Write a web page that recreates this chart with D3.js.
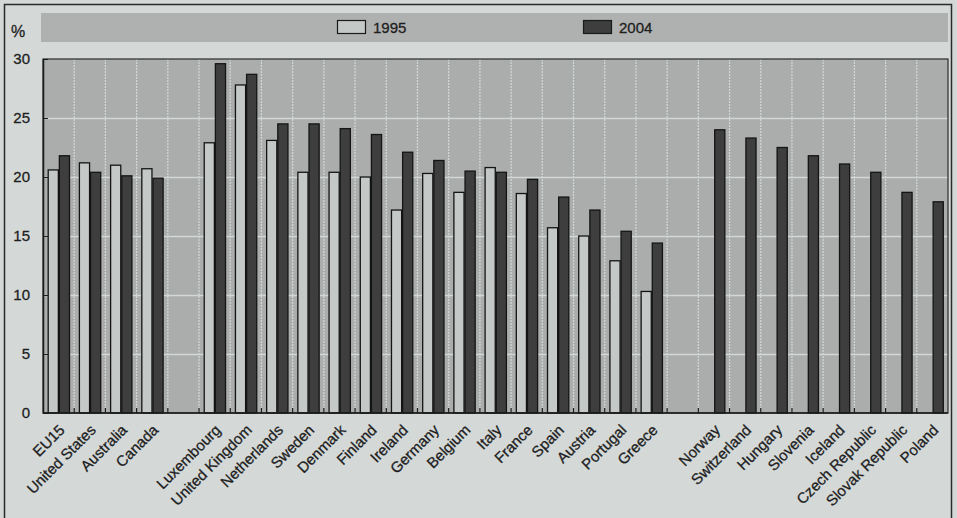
<!DOCTYPE html>
<html>
<head>
<meta charset="utf-8">
<script src="https://cdn.jsdelivr.net/npm/d3@7"></script>
<style>
  html, body { margin: 0; padding: 0; background: #d4d9d8; }
  svg { display: block; font-family: "Liberation Sans", Arial, sans-serif; }
  .lbl { fill: #1e1e1e; stroke: #1e1e1e; stroke-width: 0.3px; }
</style>
</head>
<body>
<svg id="chart" width="957" height="518"></svg>
<script>
// Country groups (separated by an empty slot on the axis)
const groupA = ["EU15", "United States", "Australia", "Canada"];
const groupB = ["Luxembourg", "United Kingdom", "Netherlands", "Sweden", "Denmark",
  "Finland", "Ireland", "Germany", "Belgium", "Italy", "France", "Spain",
  "Austria", "Portugal", "Greece"];
const groupC = ["Norway", "Switzerland", "Hungary", "Slovenia", "Iceland",
  "Czech Republic", "Slovak Republic", "Poland"];

// Shares in %, per country, in the same order as the groups above
const values1995 = [20.6, 21.2, 21.0, 20.7,
  22.9, 27.8, 23.1, 20.4, 20.4, 20.0, 17.2, 20.3, 18.7, 20.8, 18.6, 15.7, 15.0, 12.9, 10.3,
  null, null, null, null, null, null, null, null];
const values2004 = [21.8, 20.4, 20.1, 19.9,
  29.6, 28.7, 24.5, 24.5, 24.1, 23.6, 22.1, 21.4, 20.5, 20.4, 19.8, 18.3, 17.2, 15.4, 14.4,
  24.0, 23.3, 22.5, 21.8, 21.1, 20.4, 18.7, 17.9];

const years = ["1995", "2004"];
const yTicks = [0, 5, 10, 15, 20, 25, 30];

const countries = groupA.concat(groupB, groupC);
const slots = groupA.concat(["gap1"], groupB, ["gap2"], groupC);
const rows = countries.map((c, i) => ({ country: c, "1995": values1995[i], "2004": values2004[i] }));

const svg = d3.select("#chart");
const plotLeft = 43, plotRight = 948, plotTop = 59, plotBottom = 413;

const x = d3.scaleBand().domain(slots).range([plotLeft, plotRight]).padding(0);
const x1 = d3.scaleBand().domain(years).range([4.7, 27]).padding(0);
const y = d3.scaleLinear().domain([0, 30]).range([plotBottom, plotTop]);

const colors = { "1995": "#c4c8c7", "2004": "#3e3e3e" };

// outer frame
svg.append("rect").attr("x", 4.5).attr("y", 4.5).attr("width", 947).attr("height", 530)
  .attr("fill", "#d4d9d8").attr("stroke", "#2a2a2a").attr("stroke-width", 1.5);

// legend band
svg.append("rect").attr("x", 41).attr("y", 13).attr("width", plotRight - 41).attr("height", 29)
  .attr("fill", "#afb1b1");

const legendPos = { "1995": 337, "2004": 583 };
years.forEach(yr => {
  svg.append("rect").attr("x", legendPos[yr] + 0.5).attr("y", 20.5).attr("width", 28).attr("height", 13)
    .attr("fill", colors[yr]).attr("stroke", "#1a1a1a").attr("stroke-width", 1.2);
  svg.append("text").attr("class", "lbl").attr("x", legendPos[yr] + 36).attr("y", 33)
    .attr("font-size", 15).text(yr);
});

// plot background
svg.append("rect").attr("x", plotLeft).attr("y", plotTop)
  .attr("width", plotRight - plotLeft).attr("height", plotBottom - plotTop)
  .attr("fill", "#abadad");

// grid lines
svg.append("g").selectAll("line").data(yTicks.filter(t => t > 0 && t < 30)).join("line")
  .attr("x1", plotLeft).attr("x2", plotRight)
  .attr("y1", d => Math.round(y(d)) + 0.5).attr("y2", d => Math.round(y(d)) + 0.5)
  .attr("stroke", "#d2d8d7").attr("stroke-width", 1.5);

svg.append("g").selectAll("line").data(slots.slice(1)).join("line")
  .attr("x1", d => x(d)).attr("x2", d => x(d))
  .attr("y1", plotTop).attr("y2", plotBottom)
  .attr("stroke", "#d2d8d7").attr("stroke-width", 1.2).attr("stroke-dasharray", "2,1");

// bars
const groups = svg.append("g").selectAll("g").data(rows).join("g")
  .attr("transform", d => `translate(${x(d.country)},0)`);

groups.selectAll("rect").data(d => years.filter(yr => d[yr] != null).map(yr => ({ yr, v: d[yr] })))
  .join("rect")
  .attr("x", d => x1(d.yr) + 0.5)
  .attr("y", d => y(d.v))
  .attr("width", x1.bandwidth() - 1)
  .attr("height", d => y(0) - y(d.v))
  .attr("fill", d => colors[d.yr])
  .attr("stroke", "#141414").attr("stroke-width", 1.3);

// plot frame
svg.append("rect").attr("x", plotLeft).attr("y", plotTop)
  .attr("width", plotRight - plotLeft).attr("height", plotBottom - plotTop)
  .attr("fill", "none").attr("stroke", "#2a2a2a").attr("stroke-width", 1.2);

// y axis (ticks inside the frame)
const yAxis = d3.axisLeft(y).tickValues(yTicks).tickSizeInner(-5).tickSizeOuter(0).tickPadding(13);
const gy = svg.append("g").attr("transform", `translate(${plotLeft},0)`).call(yAxis);
gy.select(".domain").attr("stroke", "#1a1a1a").attr("stroke-width", 1.5);
gy.selectAll(".tick line").attr("stroke", "#1a1a1a");
gy.selectAll(".tick text").attr("class", "lbl").attr("font-size", 15)
  .attr("font-family", "Liberation Sans, Arial, sans-serif");

svg.append("text").attr("class", "lbl").attr("x", 11).attr("y", 37).attr("font-size", 16).text("%");

// x axis: boundary ticks pointing up, rotated country labels
svg.append("line").attr("x1", plotLeft).attr("x2", plotRight).attr("y1", plotBottom).attr("y2", plotBottom)
  .attr("stroke", "#1a1a1a").attr("stroke-width", 1.5);
svg.append("g").selectAll("line").data(slots.slice(1)).join("line")
  .attr("x1", d => x(d)).attr("x2", d => x(d))
  .attr("y1", plotBottom).attr("y2", plotBottom - 5)
  .attr("stroke", "#1a1a1a").attr("stroke-width", 1.2);

svg.append("g").selectAll("text").data(countries).join("text")
  .attr("class", "lbl")
  .attr("transform", d => `translate(${x(d) + x.bandwidth() / 2 + 7},431) rotate(-45)`)
  .attr("text-anchor", "end")
  .attr("font-size", 15)
  .text(d => d);
</script>
</body>
</html>
